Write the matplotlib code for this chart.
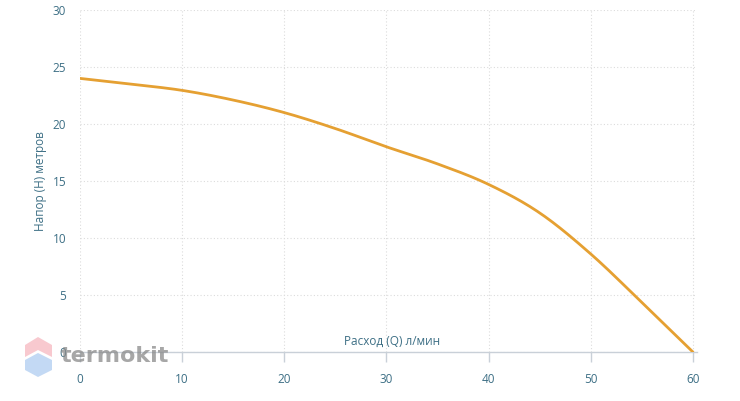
import matplotlib
matplotlib.use("Agg")
import matplotlib.pyplot as plt
from matplotlib.patches import Polygon
import numpy as np

# pump curve
flow = [0, 5, 10, 15, 20, 25, 30, 35, 40, 45, 50, 55, 60]
head = [24.0, 23.5, 22.95, 22.1, 21.0, 19.6, 18.0, 16.5, 14.7, 12.2, 8.6, 4.35, 0.0]
x_ticks = [0, 10, 20, 30, 40, 50, 60]
y_ticks = [0, 5, 10, 15, 20, 25, 30]

teal = "#3d6f85"
line_col = "#e5a032"
grid_col = "#dcdcdc"

plt.rcParams['font.family'] = ['Open Sans', 'DejaVu Sans']


def catmull(x, y, n=20):
    # simple catmull-rom through the read points
    x = np.asarray(x, float)
    y = np.asarray(y, float)
    px = np.concatenate([[2 * x[0] - x[1]], x, [2 * x[-1] - x[-2]]])
    py = np.concatenate([[2 * y[0] - y[1]], y, [2 * y[-1] - y[-2]]])
    outx, outy = [], []
    t = np.linspace(0, 1, n, endpoint=False)
    for i in range(1, len(px) - 2):
        for arr, out in ((px, outx), (py, outy)):
            p0, p1, p2, p3 = arr[i - 1], arr[i], arr[i + 1], arr[i + 2]
            out.extend(0.5 * (2 * p1 + (-p0 + p2) * t + (2 * p0 - 5 * p1 + 4 * p2 - p3) * t ** 2
                              + (-p0 + 3 * p1 - 3 * p2 + p3) * t ** 3))
    outx.append(x[-1])
    outy.append(y[-1])
    return outx, outy


fig = plt.figure(figsize=(7.4, 4.01), dpi=100)
ax = fig.add_axes([80 / 740, 49 / 401, 617 / 740, 342 / 401])

xs, ys = catmull(flow, head)
ax.plot(xs, ys, color=line_col, lw=2.0, solid_capstyle='round', zorder=3)

ax.set_xlim(0, 60.4)
ax.set_ylim(0, 30)
ax.set_xticks(x_ticks)
ax.set_yticks(y_ticks)
ax.grid(True, color=grid_col, linestyle=(0, (1, 2)), linewidth=0.8)
ax.set_axisbelow(True)

for s in ['top', 'right', 'left']:
    ax.spines[s].set_visible(False)
ax.spines['bottom'].set_color("#c9d0d8")
ax.spines['bottom'].set_linewidth(1.0)

ax.tick_params(axis='x', colors="#c9d0d8", length=7, width=1, labelcolor=teal,
               labelsize=8.5, pad=8)
ax.tick_params(axis='y', length=0, labelcolor=teal, labelsize=8.5, pad=10)

ax.set_ylabel("Напор (H) метров", color=teal, fontsize=8.5, labelpad=4)
ax.text(30.5, 0.35, "Расход (Q) л/мин", color=teal, fontsize=8.5,
        ha='center', va='bottom', transform=ax.transData)

# watermark
def fx(px):
    return px / 740

def fy(py):
    return 1 - py / 401

top_half = [(fx(38), fy(337)), (fx(52), fy(345)), (fx(52), fy(357)), (fx(38), fy(350)),
            (fx(25), fy(357)), (fx(25), fy(345))]
bot_half = [(fx(25), fy(360)), (fx(38), fy(353)), (fx(52), fy(360)), (fx(52), fy(370)),
            (fx(38), fy(377)), (fx(25), fy(370))]
fig.patches.append(Polygon(top_half, closed=True, transform=fig.transFigure,
                           facecolor="#f8c3ca", edgecolor='none', alpha=0.9))
fig.patches.append(Polygon(bot_half, closed=True, transform=fig.transFigure,
                           facecolor="#bdd5f3", edgecolor='none', alpha=0.9))
fig.text(fx(61), fy(356), "termokit", color="#8a8a8a", alpha=0.75, fontsize=16,
         fontweight='bold', ha='left', va='center', family=['DejaVu Sans'])

fig.savefig("out.png", dpi=100)
